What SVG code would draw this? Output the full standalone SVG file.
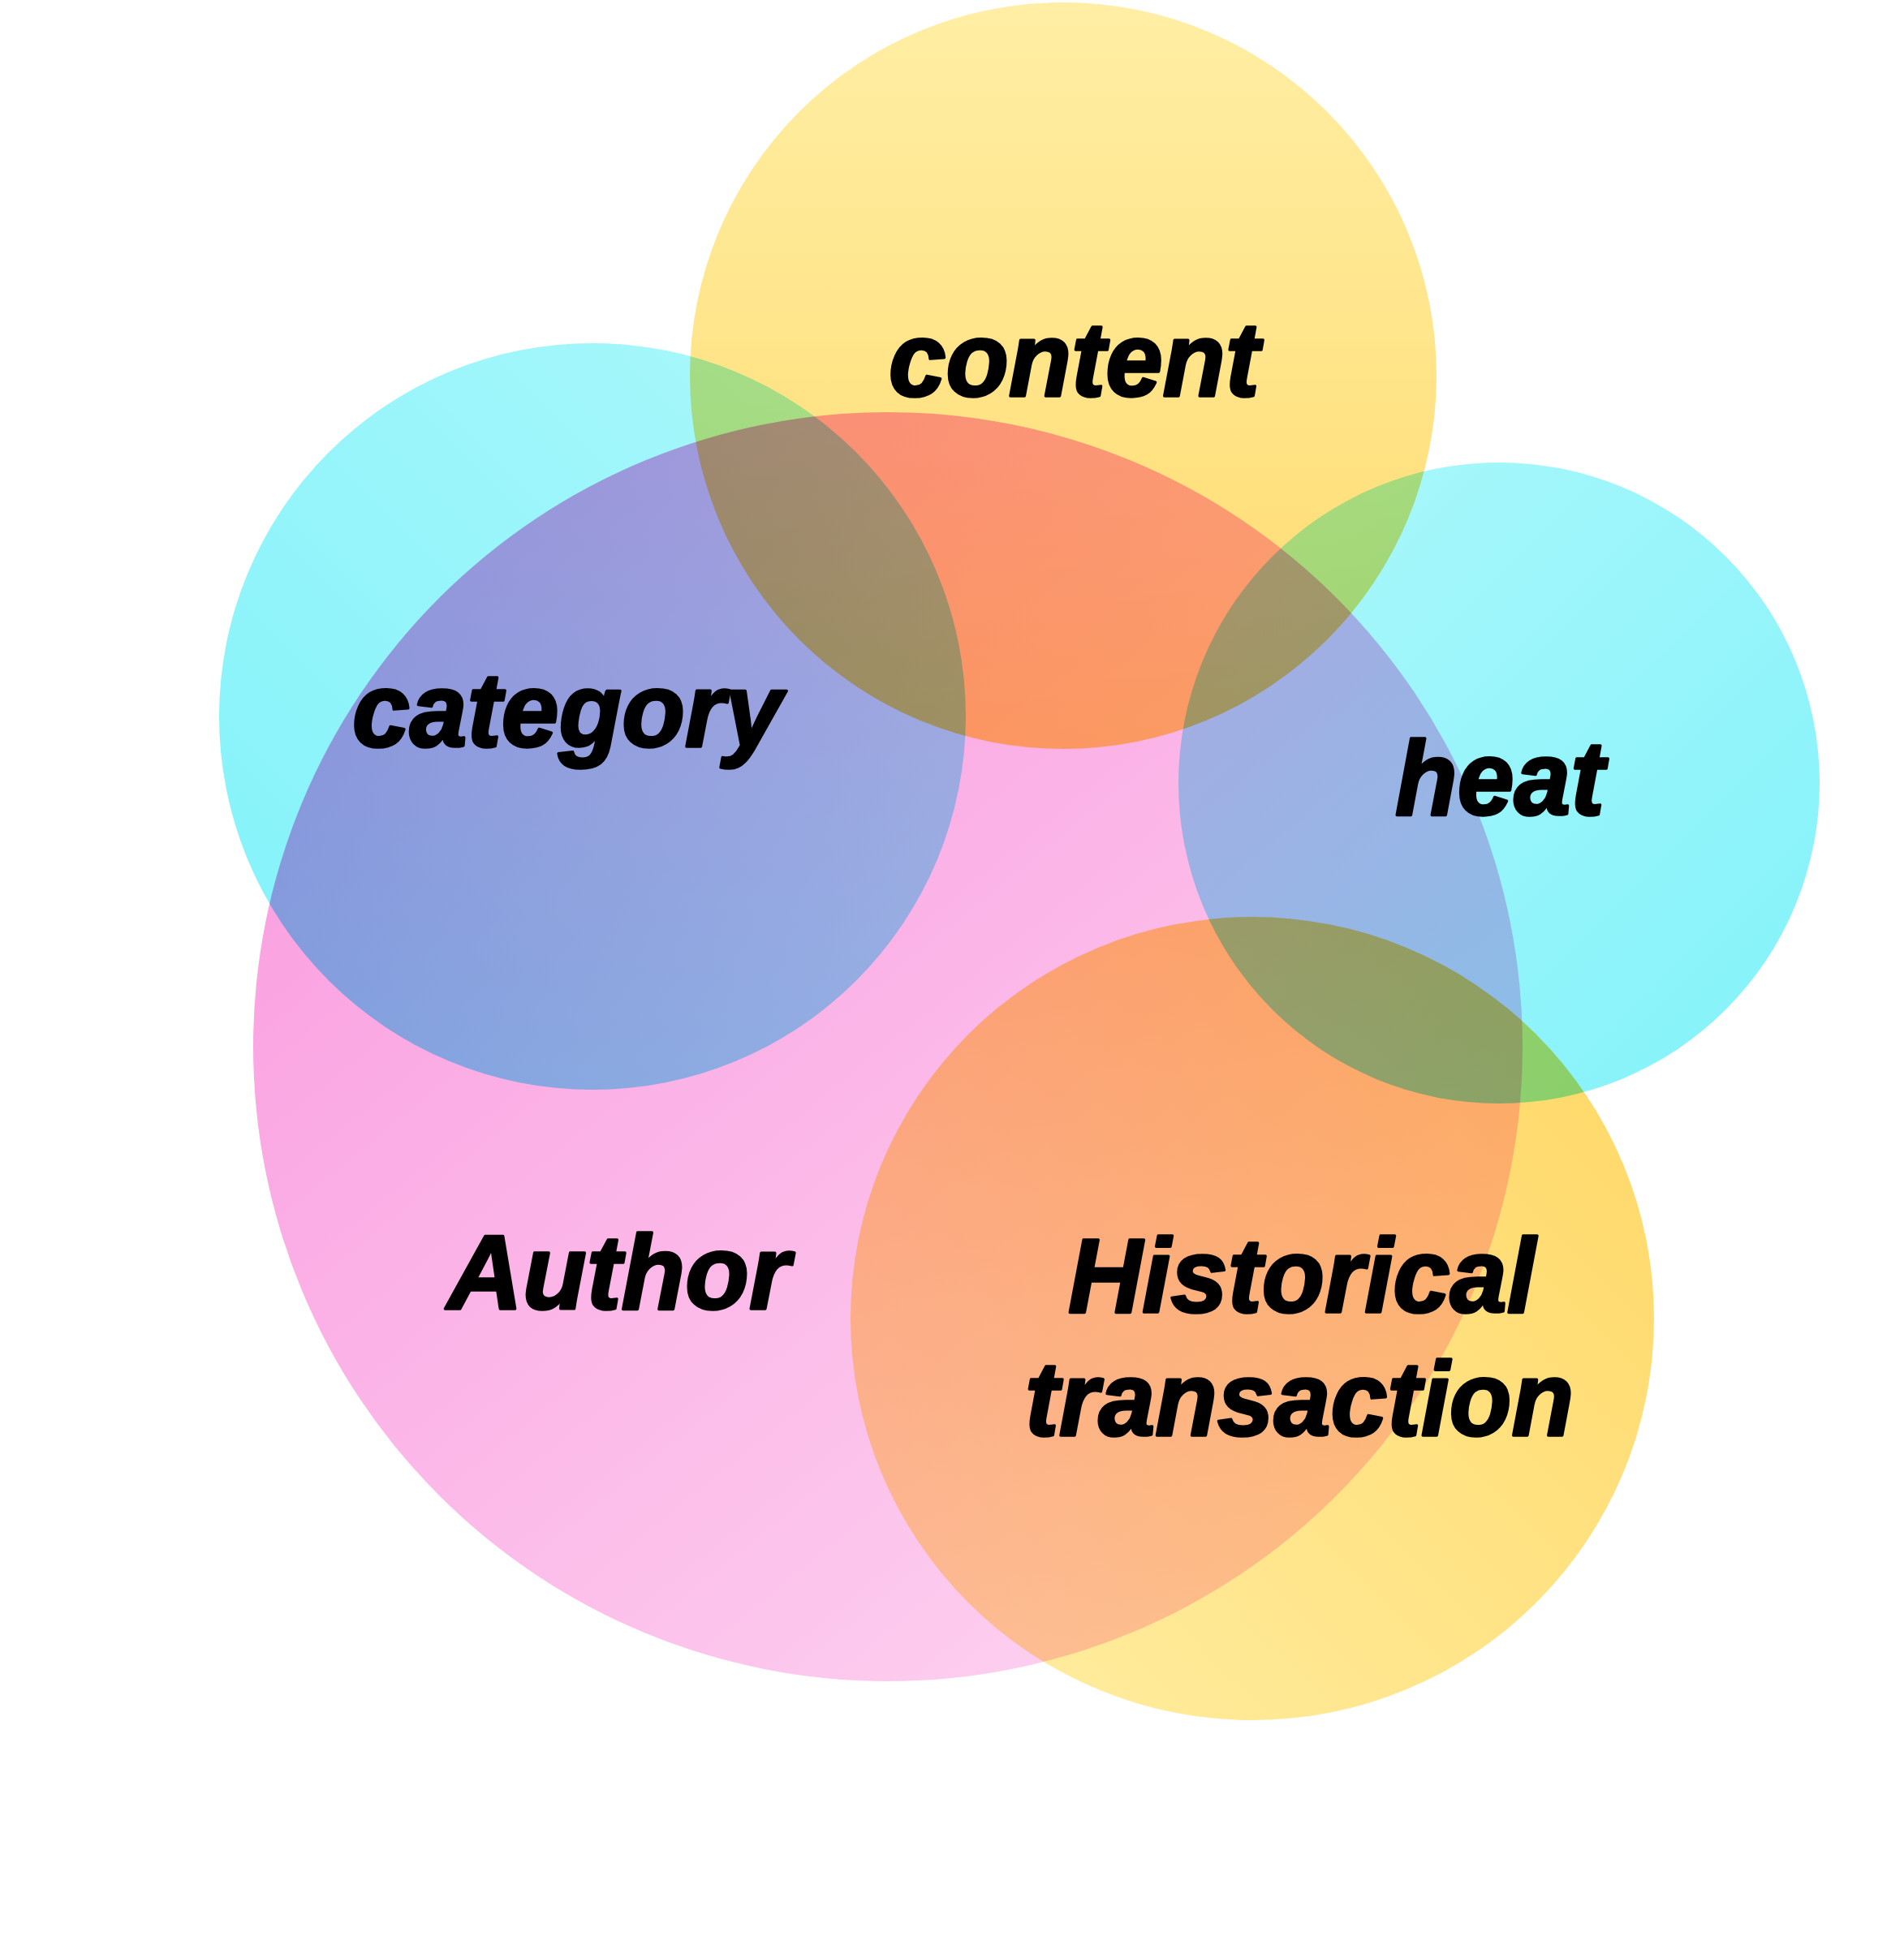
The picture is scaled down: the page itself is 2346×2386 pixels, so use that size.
<svg xmlns="http://www.w3.org/2000/svg" width="2346" height="2386" viewBox="0 0 2346 2386">
<defs>
<linearGradient id="gPink" x1="0.1" y1="0.2" x2="0.75" y2="1">
<stop offset="0" stop-color="#FA9EE0"/><stop offset="1" stop-color="#FDD2F0"/>
</linearGradient>
<linearGradient id="gCyanL" x1="0" y1="1" x2="1" y2="0">
<stop offset="0" stop-color="#80F2FA"/><stop offset="1" stop-color="#ADF8FB"/>
</linearGradient>
<linearGradient id="gCyanR" x1="0" y1="0" x2="1" y2="1">
<stop offset="0" stop-color="#ADF8FB"/><stop offset="1" stop-color="#82F2FA"/>
</linearGradient>
<linearGradient id="gYelT" x1="0" y1="0" x2="0" y2="1">
<stop offset="0" stop-color="#FFEEA4"/><stop offset="1" stop-color="#FFDA6C"/>
</linearGradient>
<linearGradient id="gYelB" x1="1" y1="0" x2="0" y2="1">
<stop offset="0" stop-color="#FFD662"/><stop offset="1" stop-color="#FFEFA6"/>
</linearGradient>
</defs>
<style>
.c{mix-blend-mode:multiply}
text{font-family:"Liberation Sans",Arial,sans-serif;font-weight:bold;font-style:italic;font-size:130px;fill:#000;stroke:#000;stroke-width:3.5;stroke-linejoin:round}
</style>
<rect width="2346" height="2386" fill="#FFFFFF"/>
<g id="shapes">
<circle id="author" class="c" cx="1094" cy="1290" r="782" fill="url(#gPink)"/>
<circle id="content" class="c" cx="1310" cy="463" r="460" fill="url(#gYelT)"/>
<circle id="category" class="c" cx="730" cy="883" r="460" fill="url(#gCyanL)"/>
<circle id="heat" class="c" cx="1847" cy="965" r="395" fill="url(#gCyanR)"/>
<circle id="historical" class="c" cx="1543" cy="1625" r="495" fill="url(#gYelB)"/>
</g>
<g id="labels">
<text x="1095" y="488" textLength="457" lengthAdjust="spacingAndGlyphs">content</text>
<text x="434" y="920" textLength="530" lengthAdjust="spacingAndGlyphs">category</text>
<text x="1719" y="1004" textLength="258" lengthAdjust="spacingAndGlyphs">heat</text>
<text x="551" y="1613" textLength="422" lengthAdjust="spacingAndGlyphs">Author</text>
<text x="1316" y="1617" textLength="576" lengthAdjust="spacingAndGlyphs">Historical</text>
<text x="1263" y="1769" textLength="676" lengthAdjust="spacingAndGlyphs">transaction</text>
</g>
</svg>
